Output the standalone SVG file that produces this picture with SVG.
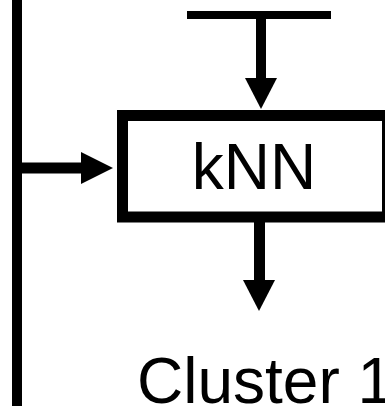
<svg xmlns="http://www.w3.org/2000/svg" width="385" height="406" viewBox="0 0 385 406">
<style>
.ln{stroke:#000;stroke-width:10;fill:none}
.ah{fill:#000}
.lbl{font-family:"Liberation Sans",Arial,sans-serif;font-size:64px;fill:#000}
</style>
<rect width="385" height="406" fill="#fff"/>
<g id="connectors">
<line class="ln" x1="17" y1="0" x2="17" y2="406"/>
<line class="ln" x1="187" y1="15" x2="331" y2="15" style="stroke-width:8"/>
<line class="ln" x1="261" y1="15" x2="261" y2="80"/>
<polygon class="ah" points="245,78 277,78 261,109"/>
<line class="ln" x1="17" y1="168" x2="83" y2="168" style="stroke-width:11"/>
<polygon class="ah" points="81,152 81,184 113,168"/>
<line class="ln" x1="259.5" y1="222" x2="259.5" y2="282" style="stroke-width:11"/>
<polygon class="ah" points="243,280 275,280 259,311"/>
</g>
<g id="node-knn">
<rect x="122.5" y="115.5" width="265" height="101.5" fill="#fff" stroke="#000" stroke-width="11"/>
<text class="lbl" x="254" y="189" text-anchor="middle">kNN</text>
</g>
<g id="node-cluster1">
<text class="lbl" x="137" y="403">Cluster 1</text>
</g>
</svg>
